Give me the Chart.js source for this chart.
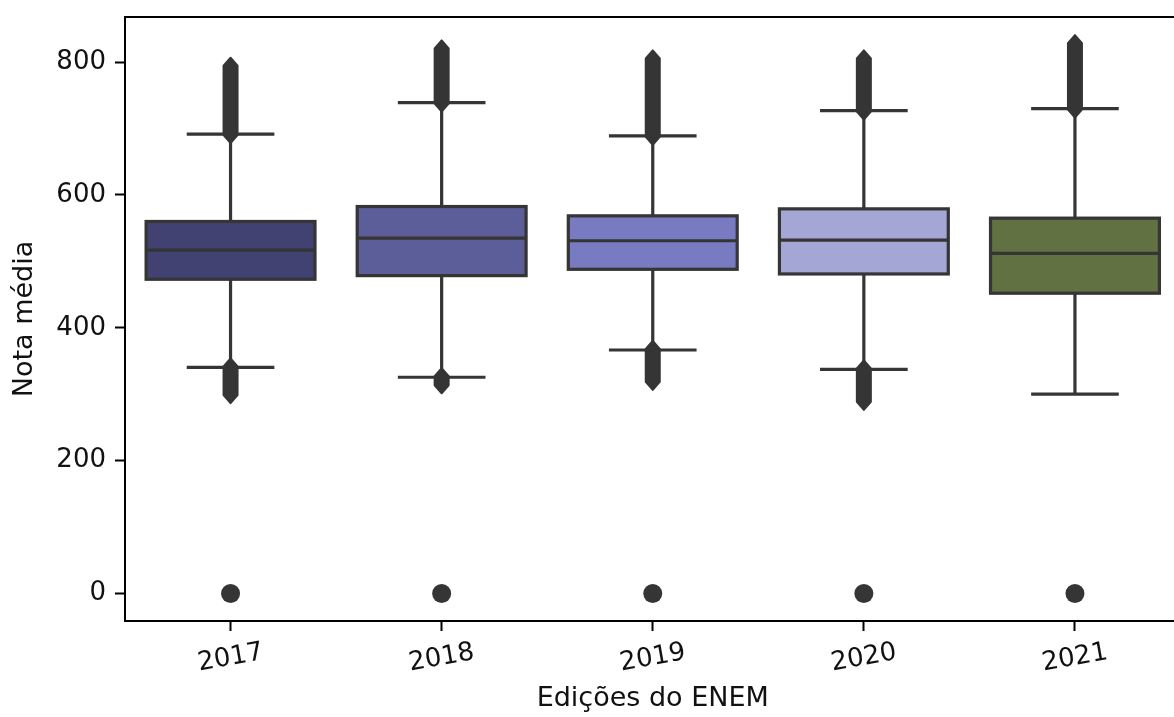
<!DOCTYPE html>
<html><head><meta charset="utf-8">
<script src="https://cdn.jsdelivr.net/npm/chart.js@4.4.1/dist/chart.umd.min.js"></script>
<style>
html,body{margin:0;padding:0;overflow:hidden;background:#fff;width:1174px;height:717px}
#wrap{width:1190px;height:717px}
</style></head>
<body><div id="wrap"><canvas id="c" width="1190" height="717"></canvas></div>
<script>
// ---- data ----
const years = ['2017', '2018', '2019', '2020', '2021'];
const q1 = [473, 478.5, 488, 481, 452];
const median = [517, 535, 531, 532, 512];
const q3 = [560, 582.5, 568.5, 579, 565];
const whiskerLow = [340.5, 325.5, 366.5, 337.5, 300];
const whiskerHigh = [691.5, 739, 689, 727, 730];
const outlierHighMax = [793, 819, 804, 804, 827];
const outlierLowMin = [300, 315, 320, 290, null];
const zeroOutliers = [0, 0, 0, 0, 0];
const yTicks = [0, 200, 400, 600, 800];
const yMin = -41.4, yMax = 867.8;

const boxColors = ['#414271', '#5c5e99', '#787ac2', '#a4a6d6', '#617141'];
const lineColor = '#353535';
const FONT = "'DejaVu Sans', sans-serif";
const FS = 26;
const FT = 27;
const TXT = '#111111';

Chart.defaults.font.family = FONT;

function flier(ctx, cx, yTop, yBot, r, h) {
  ctx.beginPath();
  ctx.moveTo(cx, yTop);
  ctx.lineTo(cx + r, yTop + h);
  ctx.lineTo(cx + r, yBot - h);
  ctx.lineTo(cx, yBot);
  ctx.lineTo(cx - r, yBot - h);
  ctx.lineTo(cx - r, yTop + h);
  ctx.closePath();
  ctx.fill();
  ctx.stroke();
}

const boxParts = {
  id: 'boxParts',
  afterDatasetsDraw(chart) {
    const ctx = chart.ctx, ys = chart.scales.y, xs = chart.scales.x;
    const meta = chart.getDatasetMeta(0);
    ctx.save();
    ctx.strokeStyle = lineColor;
    ctx.fillStyle = lineColor;
    meta.data.forEach((bar, i) => {
      const cx = xs.getPixelForValue(i);
      const w = bar.width;
      const p = v => ys.getPixelForValue(v);
      const yq1 = p(q1[i]), yq3 = p(q3[i]), ym = p(median[i]);
      const ywl = p(whiskerLow[i]), ywh = p(whiskerHigh[i]);
      // fliers (dense clouds of outliers)
      ctx.lineWidth = 2; ctx.lineJoin = 'round';
      const r = 7, h = 8;
      flier(ctx, cx, p(outlierHighMax[i]) - 9, ywh + 9, r, h);
      if (outlierLowMin[i] !== null) flier(ctx, cx, ywl - 9, p(outlierLowMin[i]) + 9, r, h);
      // whiskers
      ctx.lineWidth = 3.2; ctx.lineCap = 'butt';
      ctx.beginPath();
      ctx.moveTo(cx, yq3); ctx.lineTo(cx, ywh);
      ctx.moveTo(cx, yq1); ctx.lineTo(cx, ywl);
      ctx.stroke();
      // caps
      ctx.lineCap = 'square';
      ctx.beginPath();
      ctx.moveTo(cx - w / 4, ywh); ctx.lineTo(cx + w / 4, ywh);
      ctx.moveTo(cx - w / 4, ywl); ctx.lineTo(cx + w / 4, ywl);
      ctx.stroke();
      // box outline and median
      ctx.lineCap = 'butt'; ctx.lineJoin = 'miter';
      ctx.strokeRect(cx - w / 2, yq3, w, yq1 - yq3);
      ctx.beginPath();
      ctx.moveTo(cx - w / 2, ym); ctx.lineTo(cx + w / 2, ym);
      ctx.stroke();
    });
    ctx.restore();
  },
  afterDraw(chart) {
    const ctx = chart.ctx, a = chart.chartArea, xs = chart.scales.x;
    ctx.save();
    // top & right spines
    ctx.strokeStyle = '#000'; ctx.lineWidth = 2;
    ctx.beginPath();
    ctx.moveTo(a.left - 1, a.top); ctx.lineTo(a.right, a.top); ctx.lineTo(a.right, a.bottom);
    ctx.stroke();
    // rotated, centred x tick labels
    ctx.fillStyle = TXT;
    ctx.font = FS + 'px ' + FONT;
    ctx.textAlign = 'center';
    ctx.textBaseline = 'middle';
    years.forEach((lab, i) => {
      const px = xs.getPixelForTick(i);
      ctx.save();
      ctx.translate(px, a.bottom + 37);
      ctx.rotate(-10 * Math.PI / 180);
      ctx.fillText(lab, 0, 0);
      ctx.restore();
    });
    ctx.restore();
  }
};

new Chart(document.getElementById('c'), {
  type: 'bar',
  data: {
    labels: years,
    datasets: [
      {
        label: 'Nota média',
        data: years.map((_, i) => [q1[i], q3[i]]),
        backgroundColor: boxColors,
        borderWidth: 0,
        barPercentage: 0.8,
        categoryPercentage: 1,
        grouped: false
      },
      {
        type: 'line',
        label: 'outliers 0',
        data: zeroOutliers,
        showLine: false,
        pointRadius: 9.5,
        pointHoverRadius: 9.5,
        pointStyle: 'circle',
        pointBackgroundColor: lineColor,
        pointBorderWidth: 0,
        borderColor: lineColor
      }
    ]
  },
  options: {
    responsive: false,
    animation: false,
    devicePixelRatio: 1,
    layout: { padding: { top: 17, right: 3.5, left: 0, bottom: 0 } },
    plugins: { legend: { display: false }, tooltip: { enabled: false } },
    events: [],
    scales: {
      x: {
        type: 'category',
        offset: true,
        grid: { display: true, offset: false, drawOnChartArea: false, drawTicks: true, tickLength: 10, tickColor: '#000', tickWidth: 2 },
        border: { display: true, color: '#000', width: 2 },
        ticks: { color: 'rgba(0,0,0,0)', font: { size: FS }, maxRotation: 0, minRotation: 0 },
        title: { display: true, text: 'Edições do ENEM', color: TXT, font: { size: FT }, padding: { top: 0, bottom: 2 } },
        afterFit(s) { s.height = 96; s.paddingLeft = 0; s.paddingRight = 0; }
      },
      y: {
        min: yMin, max: yMax,
        afterBuildTicks(s) { s.ticks = yTicks.map(v => ({ value: v })); },
        ticks: { color: TXT, font: { size: FS }, padding: 9, includeBounds: false },
        grid: { display: true, drawOnChartArea: false, drawTicks: true, tickLength: 10, tickColor: '#000', tickWidth: 2 },
        border: { display: true, color: '#000', width: 2 },
        title: { display: true, text: 'Nota média', color: TXT, font: { size: FT }, padding: { top: 9, bottom: 0 } },
        afterFit(s) { s.width = 125; s.paddingTop = 0; s.paddingBottom = 0; }
      }
    }
  },
  plugins: [boxParts]
});
</script>
</body></html>
